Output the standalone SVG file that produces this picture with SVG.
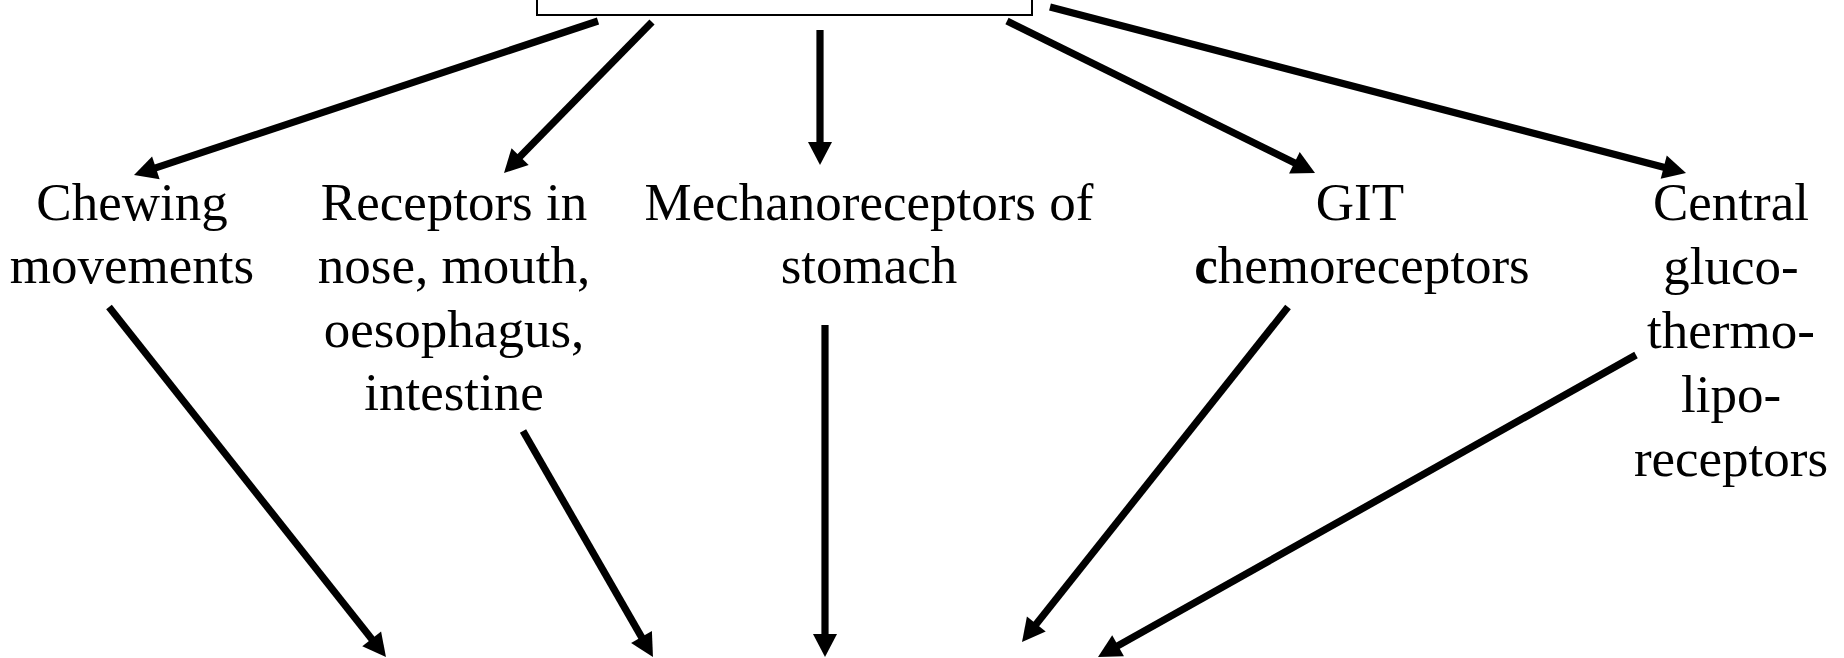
<svg xmlns="http://www.w3.org/2000/svg" width="1844" height="658" viewBox="0 0 1844 658">
<style>
.lbl{font-family:"Liberation Serif","Times New Roman",serif;font-size:53px;fill:#000;text-anchor:middle}
.arr{stroke:#000;stroke-width:7.2;fill:none;marker-end:url(#ah)}
</style>
<defs>
<marker id="ah" markerUnits="userSpaceOnUse" markerWidth="26" markerHeight="26" refX="1" refY="12" orient="auto" overflow="visible">
<path d="M0,0 L23,12 L0,24 z" fill="#000"/>
</marker>
</defs>
<rect width="1844" height="658" fill="#fff"/>
<g id="top-box">
<rect x="537" y="-30" width="495" height="45" fill="#fff" stroke="#000" stroke-width="2"/>
</g>
<g id="chewing">
<text class="lbl" x="132" y="220">Chewing</text>
<text class="lbl" x="132" y="283">movements</text>
</g>
<g id="receptors">
<text class="lbl" x="454" y="220">Receptors in</text>
<text class="lbl" x="454" y="283">nose, mouth,</text>
<text class="lbl" x="454" y="347">oesophagus,</text>
<text class="lbl" x="454" y="410">intestine</text>
</g>
<g id="mechano">
<text class="lbl" x="869" y="220">Mechanoreceptors of</text>
<text class="lbl" x="869" y="283">stomach</text>
</g>
<g id="git">
<text class="lbl" x="1360" y="220">GIT</text>
<text class="lbl" x="1362" y="283"><tspan font-weight="bold">c</tspan>hemoreceptors</text>
</g>
<g id="central">
<text class="lbl" x="1731" y="220">Central</text>
<text class="lbl" x="1731" y="284">gluco-</text>
<text class="lbl" x="1731" y="348">thermo-</text>
<text class="lbl" x="1731" y="412">lipo-</text>
<text class="lbl" x="1731" y="476">receptors</text>
</g>
<g id="connectors">
<line class="arr" x1="598" y1="21" x2="154.9" y2="168.1"/>
<line class="arr" x1="652" y1="22" x2="519.4" y2="157.3"/>
<line class="arr" x1="820" y1="30" x2="820" y2="143"/>
<line class="arr" x1="1007" y1="21" x2="1295.3" y2="163.3"/>
<line class="arr" x1="1050" y1="7" x2="1664.7" y2="167.4"/>
<line class="arr" x1="109" y1="307" x2="372.3" y2="639.7"/>
<line class="arr" x1="523" y1="431" x2="642" y2="637.9"/>
<line class="arr" x1="825" y1="325" x2="825" y2="635"/>
<line class="arr" x1="1288" y1="307" x2="1035.7" y2="624.8"/>
<line class="arr" x1="1636" y1="355" x2="1117.2" y2="646.2"/>
</g>
</svg>
